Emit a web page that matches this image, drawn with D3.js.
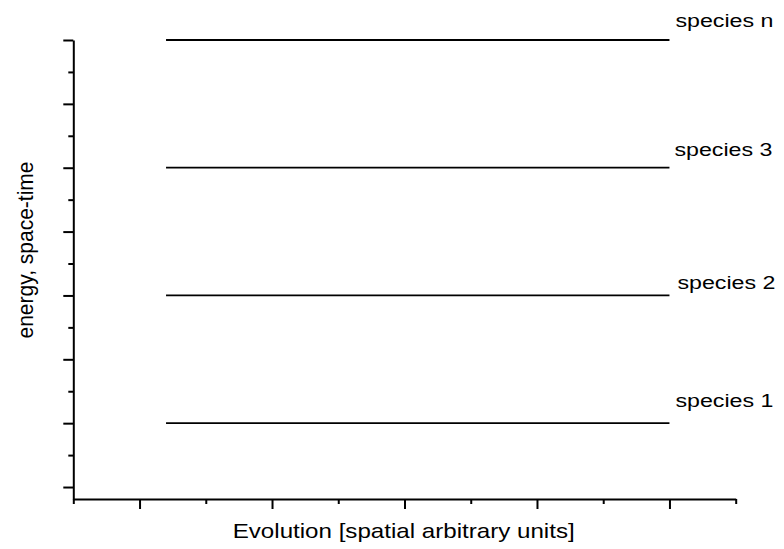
<!DOCTYPE html>
<html>
<head>
<meta charset="utf-8">
<script src="https://cdn.jsdelivr.net/npm/d3@7"></script>
<style>
  body { margin: 0; background: #fff; }
  text { font-family: "Liberation Sans", Arial, sans-serif; fill: #000; }
  .axis path, .axis line { stroke: #000; stroke-width: 2px; }
</style>
</head>
<body>
<div id="chart-area"></div>
<script>
// data
const species = ["species 1", "species 2", "species 3", "species n"]
const levels = [2, 6, 10, 14]
const lineStart = 1.4
const lineEnd = 9
const xMajorTicks = [1, 3, 5, 7, 9]
const xMinorTicks = [0, 2, 4, 6, 8, 10]
const yMajorTicks = [0, 2, 4, 6, 8, 10, 12, 14]
const yMinorTicks = [1, 3, 5, 7, 9, 11, 13]

// layout
const W = 784, H = 549
const PLOT = { LEFT: 73.3, RIGHT: 735.7, TOP: 40, BOTTOM: 499 }
// label nudges (dx, dy in px from the line's right end)
const LABEL_NUDGE = [[6, -16], [8, -6.5], [5, -11.5], [6, -13]]

const svg = d3.select("#chart-area").append("svg")
  .attr("width", W)
  .attr("height", H)

const x = d3.scaleLinear()
  .domain([0, 10])
  .range([PLOT.LEFT, PLOT.RIGHT])

const y = d3.scaleLinear()
  .domain([-0.375, 14])
  .range([PLOT.BOTTOM, PLOT.TOP])

// X axis: minor + major ticks, no labels
svg.append("g")
  .attr("class", "axis")
  .attr("transform", `translate(0, ${PLOT.BOTTOM})`)
  .call(d3.axisBottom(x).tickValues(xMinorTicks).tickSize(5).tickSizeOuter(0).tickFormat(""))
svg.append("g")
  .attr("class", "axis")
  .attr("transform", `translate(0, ${PLOT.BOTTOM})`)
  .call(d3.axisBottom(x).tickValues(xMajorTicks).tickSize(10).tickSizeOuter(0).tickFormat(""))
  .select(".domain").remove()

// Y axis
svg.append("g")
  .attr("class", "axis")
  .attr("transform", `translate(${PLOT.LEFT}, 0)`)
  .call(d3.axisLeft(y).tickValues(yMinorTicks).tickSize(5).tickSizeOuter(0).tickFormat(""))
svg.append("g")
  .attr("class", "axis")
  .attr("transform", `translate(${PLOT.LEFT}, 0)`)
  .call(d3.axisLeft(y).tickValues(yMajorTicks).tickSize(10).tickSizeOuter(0).tickFormat(""))
  .select(".domain").remove()

// species lines
svg.selectAll("line.level")
  .data(levels)
  .enter().append("line")
    .attr("class", "level")
    .attr("x1", x(lineStart))
    .attr("x2", x(lineEnd))
    .attr("y1", d => y(d))
    .attr("y2", d => y(d))
    .attr("stroke", "#000")
    .attr("stroke-width", 1.8)

// species labels
svg.selectAll("text.species")
  .data(species)
  .enter().append("text")
    .attr("class", "species")
    .attr("x", (d, i) => x(lineEnd) + LABEL_NUDGE[i][0])
    .attr("y", (d, i) => y(levels[i]) + LABEL_NUDGE[i][1])
    .attr("font-size", "18px")
    .attr("textLength", 98)
    .attr("lengthAdjust", "spacingAndGlyphs")
    .text(d => d)

// X label
svg.append("text")
  .attr("x", 232.7)
  .attr("y", 538)
  .attr("font-size", "21px")
  .attr("textLength", 342)
  .attr("lengthAdjust", "spacingAndGlyphs")
  .text("Evolution [spatial arbitrary units]")

// Y label
svg.append("text")
  .attr("transform", "translate(33, 250) rotate(-90)")
  .attr("text-anchor", "middle")
  .attr("font-size", "22px")
  .attr("textLength", 177)
  .attr("lengthAdjust", "spacingAndGlyphs")
  .text("energy, space-time")
</script>
</body>
</html>
